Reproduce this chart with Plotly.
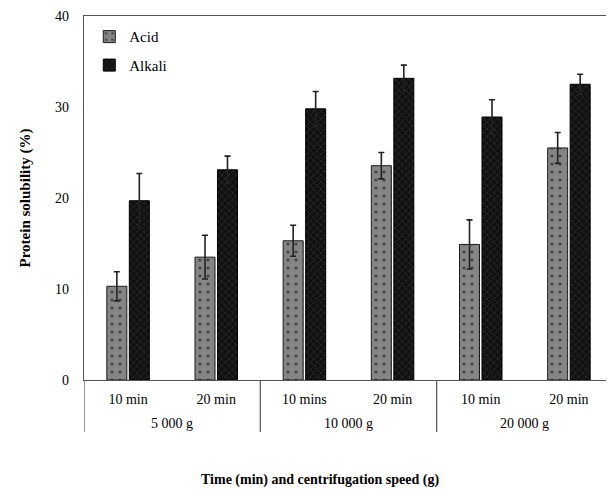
import plotly.graph_objects as go

time_labels = ["10 min", "20 min", "10 mins", "20 min", "10 min", "20 min"]
speed_labels = ["5 000 g", "10 000 g", "20 000 g"]
acid = [10.3, 13.5, 15.3, 23.55, 14.9, 25.5]
acid_err = [1.6, 2.4, 1.7, 1.45, 2.7, 1.7]
alkali = [19.7, 23.1, 29.8, 33.15, 28.9, 32.5]
alkali_err = [3.0, 1.5, 1.9, 1.45, 1.9, 1.1]

x = list(range(len(time_labels)))
FONT = "Liberation Serif"
PLOT_H = 364.0

fig = go.Figure()
fig.add_trace(go.Bar(
    name="Acid", x=x, y=acid, legendgroup="a",
    marker=dict(color="#858585", line=dict(color="#1a1a1a", width=1),
                pattern=dict(shape=".", fgcolor="#000000", bgcolor="#858585", size=8, solidity=0.12)),
    error_y=dict(type="data", array=acid_err, color="#222222", thickness=1.6, width=3),
))
fig.add_trace(go.Bar(
    name="Alkali", x=x, y=alkali, legendgroup="b",
    marker=dict(color="#111111", line=dict(color="#000000", width=1),
                pattern=dict(shape="x", fgcolor="#5a5a5a", bgcolor="#111111", size=5, solidity=0.2)),
    error_y=dict(type="data", array=alkali_err, color="#222222", thickness=1.6, width=3),
))

# group labels and dividers
for g, lab in enumerate(speed_labels):
    fig.add_annotation(x=2 * g + 0.5, y=-43 / PLOT_H, xref="x", yref="paper", text=lab,
                       showarrow=False, yanchor="middle",
                       font=dict(family=FONT, size=14, color="#000"))
for b in [-0.5, 1.5, 3.5, 5.5]:
    fig.add_shape(type="line", x0=b, x1=b, xref="x", yref="paper", y0=0, y1=-52 / PLOT_H,
                  line=dict(color="#555555", width=1.2))

fig.add_annotation(x=0.446, y=-100 / PLOT_H, xref="paper", yref="paper",
                   text="<b>Time (min) and centrifugation speed (g)</b>", showarrow=False,
                   yanchor="middle", font=dict(family=FONT, size=14, color="#000"))

# page body has an 8px margin, so the figure is sized to fit the window after that offset
fig.update_layout(
    width=606, height=482,
    margin=dict(l=76, r=1, t=8, b=110, autoexpand=False),
    paper_bgcolor="white", plot_bgcolor="white",
    barmode="group", bargap=0.49, bargroupgap=0.11,
    font=dict(family=FONT, size=14, color="#000"),
    legend=dict(x=0.01, y=0.988, xanchor="left", yanchor="top", bgcolor="rgba(0,0,0,0)",
                font=dict(family=FONT, size=15, color="#000"), tracegroupgap=6, itemwidth=30),
    showlegend=True,
)
fig.update_xaxes(range=[-0.5, 5.5], tickvals=x, ticktext=time_labels, showgrid=False,
                 showline=True, linecolor="#555555", linewidth=1.2, mirror=True, automargin=False,
                 ticks="", ticklabelstandoff=6, tickfont=dict(family=FONT, size=14, color="#000"),
                 zeroline=False)
fig.update_yaxes(range=[0, 40], dtick=10, showgrid=False, showline=True, linecolor="#555555",
                 linewidth=1.2, mirror=True, ticks="", zeroline=False, automargin=False,
                 ticklabelstandoff=11, tickfont=dict(family=FONT, size=14, color="#000"),
                 title=dict(text="<b>Protein solubility (%)</b>", font=dict(family=FONT, size=15),
                            standoff=20))

fig.write_html("out.html")
